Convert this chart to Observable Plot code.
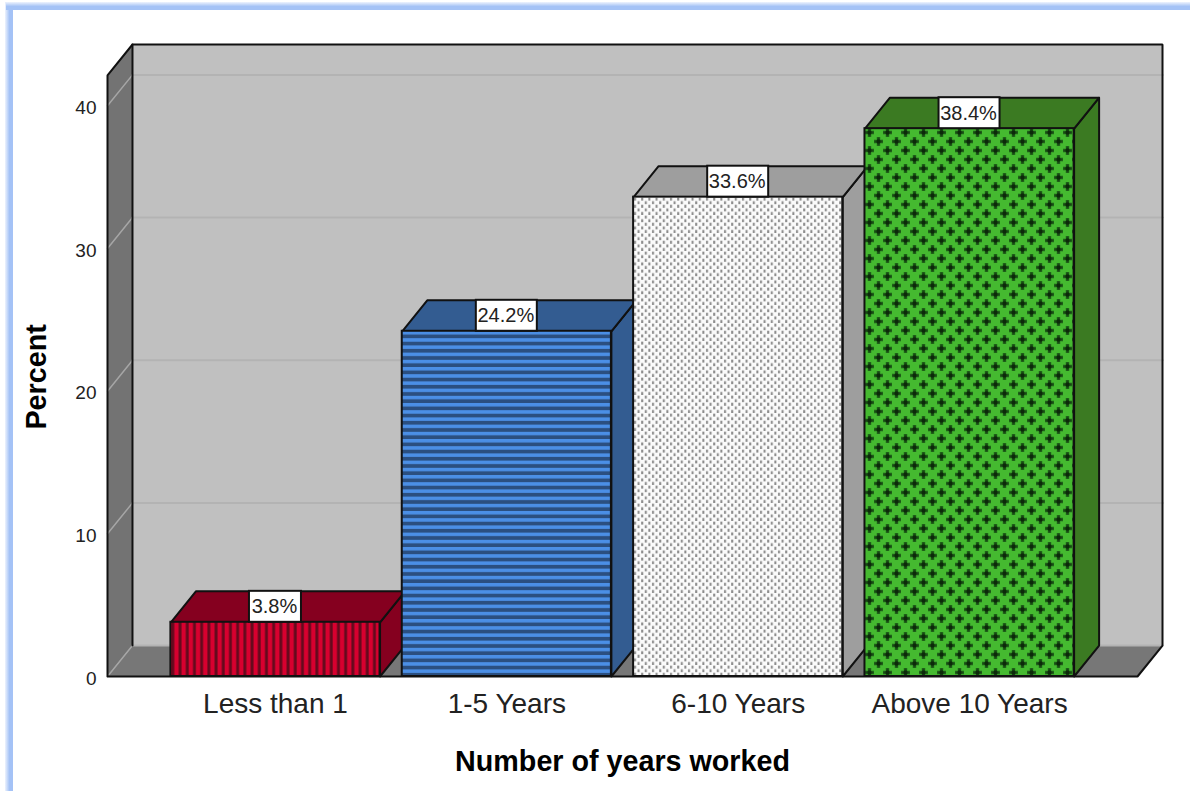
<!DOCTYPE html>
<html>
<head>
<meta charset="utf-8">
<script src="https://cdn.jsdelivr.net/npm/d3@7"></script>
<script src="https://cdn.jsdelivr.net/npm/@observablehq/plot@0.6"></script>
<style>
  html, body { margin: 0; padding: 0; background: #fff; }
  body { width: 1190px; height: 791px; overflow: hidden; position: relative; }
  .edge-top { position: absolute; left: 6px; right: 0; top: 2px; height: 8px;
    background: linear-gradient(to bottom, #eef3fd, #a4c2f6 55%); }
  .edge-left { position: absolute; left: 5px; top: 2px; bottom: 0; width: 8px;
    background: linear-gradient(to right, #eef3fd, #a4c2f6 55%); }
  #chart { position: absolute; left: 0; top: 0; }
  #chart svg { display: block; background: transparent; }
</style>
</head>
<body>
<div class="edge-left"></div>
<div class="edge-top"></div>
<div id="chart"></div>
<script>
// Share of respondents by number of years worked
const categories = ["Less than 1", "1-5 Years", "6-10 Years", "Above 10 Years"];
const percents = [3.8, 24.2, 33.6, 38.4];
const yTicks = [0, 10, 20, 30, 40];
const faceFills = ["url(#hatch-red)", "url(#hatch-blue)", "url(#hatch-dots)", "url(#hatch-cross)"];
const shadeFills = ["#85001f", "#335c91", "#9e9e9e", "#3b7a22"];

// Extent of the 3-D box, in axis units (x: category index, y: percent)
const xStart = -0.726, xEnd = 3.726, barHalf = 0.452;
const yCeil = 42.13;
const depthX = 0.108, depthY = 2.17;
const ink = "#111";

const labelHalf = (text) => (9 * text.length + 16) / 2 / 231.36;

const polygon = (pts, options) =>
  Plot.line(pts, {x: (d) => d[0], y: (d) => d[1], curve: "linear", ...options});

const patterns = () => {
  const defs = d3.create("svg:defs");
  defs.html(`
    <pattern id="hatch-red" patternUnits="userSpaceOnUse" width="7.2" height="8" x="171">
      <rect width="7.2" height="8" fill="#d8002f"/>
      <rect x="0.4" width="2.9" height="8" fill="#640a1d"/>
    </pattern>
    <pattern id="hatch-blue" patternUnits="userSpaceOnUse" width="8" height="7.2" y="331">
      <rect width="8" height="7.2" fill="#4b8fe6"/>
      <rect y="3.5" width="8" height="3.7" fill="#2b4f80"/>
    </pattern>
    <pattern id="hatch-dots" patternUnits="userSpaceOnUse" width="7.2" height="7.2" x="633" y="197">
      <rect width="7.2" height="7.2" fill="#fbfbfb"/>
      <rect x="1" y="0.6" width="2" height="3" fill="#8a8a8a"/>
      <rect x="4.6" y="4.2" width="2" height="3" fill="#8a8a8a"/>
    </pattern>
    <pattern id="hatch-cross" patternUnits="userSpaceOnUse" width="18" height="18" x="865" y="128">
      <rect width="18" height="18" fill="#45ba30"/>
      <path d="M4.5 0V9M0 4.5H9M13.5 9V18M9 13.5H18" stroke="#2f8a23" stroke-width="3.8"/>
      <path d="M4.5 0.2V8.8M0.2 4.5H8.8M13.5 9.2V17.8M9.2 13.5H17.8" stroke="#164a12" stroke-width="2.6"/>
      <path d="M4.5 3V6M3 4.5H6M13.5 12V15M12 13.5H15" stroke="#0c2a0a" stroke-width="3.8"/>
    </pattern>`);
  return defs.node();
};

// Walls and floor of the box
const shell = [
  Plot.rect([0], {x1: xStart + depthX, x2: xEnd + depthX, y1: depthY, y2: yCeil + depthY, fill: "#c0c0c0"}),
  polygon([[xStart, 0], [xStart, yCeil], [xStart + depthX, yCeil + depthY], [xStart + depthX, depthY]], {fill: "#737373"}),
  polygon([[xStart, 0], [xStart + depthX, depthY], [xEnd + depthX, depthY], [xEnd, 0]], {fill: "#777777"})
];

// Gridlines run across the back wall and fold onto the side wall
const grid = yTicks.flatMap((v) => [
  polygon([[xStart, v], [xStart + depthX, v + depthY]], {stroke: "#a6a6a6", strokeWidth: 1.5}),
  polygon([[xStart + depthX, v + depthY], [xEnd + depthX, v + depthY]], {stroke: "#b3b3b3", strokeWidth: 2})
]);

const edges = [
  [[xStart, 0], [xStart, yCeil], [xStart + depthX, yCeil + depthY], [xEnd + depthX, yCeil + depthY], [xEnd + depthX, depthY], [xEnd, 0], [xStart, 0]],
  [[xStart + depthX, depthY], [xStart + depthX, yCeil + depthY]]
].map((pts) => polygon(pts, {stroke: ink, strokeWidth: 2, strokeLinejoin: "miter"}));

// Bars are painted left to right so each front face covers its neighbour's side
const bars = percents.flatMap((v, i) => {
  const l = i - barHalf, r = i + barHalf, text = `${v}%`, half = labelHalf(text);
  const solid = {fill: shadeFills[i], stroke: ink, strokeWidth: 2, strokeLinejoin: "round"};
  return [
    polygon([[r, 0], [r, v], [r + depthX, v + depthY], [r + depthX, depthY], [r, 0]], solid),
    polygon([[l, v], [l + depthX, v + depthY], [r + depthX, v + depthY], [r, v], [l, v]], solid),
    Plot.rect([v], {x1: l, x2: r, y1: 0, y2: v, fill: faceFills[i], stroke: ink, strokeWidth: 2}),
    Plot.rect([v], {x1: i - half, x2: i + half, y1: v, y2: v + depthY, fill: "#fff", stroke: ink, strokeWidth: 2}),
    Plot.text([text], {x: i, y: v + depthY / 2, text: (d) => d, fontSize: 20, fill: "#222", dx: -1})
  ];
});

const chart = Plot.plot({
  width: 1190,
  height: 791,
  marginLeft: 107,
  marginRight: 28,
  marginTop: 44,
  marginBottom: 115,
  style: {fontFamily: "'Liberation Sans', Arial, sans-serif", background: "transparent", overflow: "visible"},
  x: {type: "linear", domain: [xStart, xEnd + depthX], axis: null},
  y: {type: "linear", domain: [0, yCeil + depthY], axis: null},
  marks: [
    patterns,
    ...shell,
    ...grid,
    ...edges,
    ...bars,
    Plot.axisY({ticks: yTicks, tickSize: 0, tickPadding: 11, fontSize: 19, label: null, fill: "#222", dy: 2}),
    Plot.axisX({ticks: [0, 1, 2, 3], tickFormat: (i) => categories[i], tickSize: 0, tickPadding: 0, fontSize: 28, label: null, fill: "#222", dy: 17, dx: 0}),
    Plot.text(["Number of years worked"], {x: (xStart + xEnd) / 2, y: 0, text: (d) => d, dy: 85, fontSize: 28.7, fontWeight: "bold", fill: "#000"}),
    Plot.text(["Percent"], {x: xStart, y: 21, text: (d) => d, dx: -71, rotate: -90, fontSize: 28.7, fontWeight: "bold", fill: "#000"})
  ]
});
document.getElementById("chart").append(chart);
</script>
</body>
</html>
